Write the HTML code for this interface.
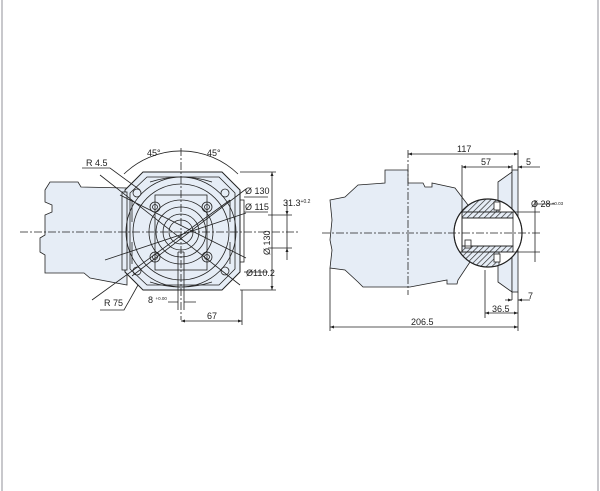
<!DOCTYPE html>
<html><head><meta charset="utf-8"><style>
html,body{margin:0;padding:0;background:#fff;}
svg{display:block;}
text{font-family:"Liberation Sans",sans-serif;font-size:9px;fill:#222;}
</style></head><body>
<svg width="600" height="491" viewBox="0 0 600 491" xmlns="http://www.w3.org/2000/svg">
<defs>
<pattern id="h" width="4" height="4" patternUnits="userSpaceOnUse" patternTransform="rotate(45)">
<rect width="4" height="4" fill="#e6edf6"/><line x1="0" y1="0" x2="0" y2="4" stroke="#222" stroke-width="1.3"/>
</pattern>
<clipPath id="cc"><circle cx="488" cy="233" r="34"/></clipPath>
</defs>
<rect x="1" y="0" width="2" height="491" fill="#c8c8cc"/>
<rect x="597" y="0" width="2" height="491" fill="#c8c8cc"/>

<g stroke="#222" stroke-width="0.8" fill="none">
<!-- LEFT pump body -->
<path d="M45,190 L50,182 L78,182 L81,187 L127,188 L127,285 L90,278 L84,273 L45,273 L45,255 L40,252 L40,238 L45,235 L45,215 L52,212 L52,205 L45,202 Z" fill="#e6edf6"/>
<!-- flange square -->
<path d="M143,172 L222,172 L240,190 L240,272 L222,290 L143,290 L125,272 L125,190 Z" fill="#e6edf6" stroke-width="1"/>
<path d="M147,177 L219,177 L235,193 L235,269 L219,285 L147,285 L130,269 L130,193 Z"/>
<rect x="122" y="192" width="5" height="78" fill="#e6edf6"/>
<rect x="240" y="200" width="4" height="62"/>
<circle cx="181" cy="232" r="55"/>
<circle cx="181" cy="232" r="48"/>
<circle cx="181" cy="232" r="32"/>
<circle cx="181" cy="232" r="25"/>
<circle cx="181" cy="232" r="18"/>
<circle cx="181" cy="232" r="12"/>
<g>
<circle cx="155" cy="207" r="5"/><circle cx="155" cy="207" r="2.5"/>
<circle cx="207" cy="207" r="5"/><circle cx="207" cy="207" r="2.5"/>
<circle cx="155" cy="257" r="5"/><circle cx="155" cy="257" r="2.5"/>
<circle cx="207" cy="257" r="5"/><circle cx="207" cy="257" r="2.5"/>
<circle cx="137" cy="193" r="4"/><circle cx="225" cy="193" r="4"/>
<circle cx="137" cy="271" r="4"/><circle cx="225" cy="271" r="4"/>
<path d="M132,200 L132,222 M230,200 L230,222 M132,242 L132,264 M230,242 L230,264"/>
<path d="M150,182 Q181,172 212,182 M150,282 Q181,292 212,282"/>
</g>
<rect x="155" y="195" width="52" height="75"/>
<!-- diagonal lines -->
<path d="M100,175 L240,285 M120,195 L246,258 M132,276 L246,189 M92,300 L230,200 M105,260 L246,213"/>
<!-- 45 arcs -->
<path d="M124,174 A82,82 0 0 1 238,174"/>
<path d="M181,148 L181,320" stroke-dasharray="8,2,2,2"/>
<path d="M20,232 L300,232" stroke-dasharray="8,2,2,2"/>
<path d="M178,252 L178,310 M184,252 L184,310 M178,252 L184,252"/>
<!-- dims left -->
<path d="M240,172 L276,172 M240,290 L276,290 M272,172 L272,290"/>
<path d="M244,272 L268,272"/>
<path d="M268,215 L292,215 M268,248 L292,248 M287,200 L287,260"/>
<path d="M181,321 L242,321 M242,290 L242,325"/>
<path d="M168,302 L178,302 M184,302 L196,302"/>
<path d="M100,310 L124,310 L138,285"/>
<path d="M82,168 L110,168 L140,190"/>
<path d="M244,197 L268,197 M244,212 L268,212"/>

<!-- RIGHT body -->
<path d="M330,200 L345,197 L358,185 L385,183 L385,170 L408,170 L408,183 L423,183 L425,187 L432,187 L432,183 L455,188 L468,205 L470,262 L458,280 L457,284 L447,284 L447,280 L410,287 L363,287 L358,282 L345,270 L330,268 L332,250 L330,240 L332,220 Z" fill="#e6edf6"/>
<path d="M498,182 L512,172 L512,292 L498,282 Z" fill="#e6edf6"/>
<rect x="512" y="170" width="6" height="122" fill="#e6edf6"/>
<circle cx="488" cy="233" r="34" fill="#fff"/>
<g clip-path="url(#cc)">
<rect x="454" y="199" width="45" height="13" fill="url(#h)"/>
<rect x="454" y="252" width="45" height="16" fill="url(#h)"/>
<rect x="462" y="212" width="51" height="6" fill="url(#h)"/>
<rect x="462" y="246" width="51" height="6" fill="url(#h)"/>
<rect x="462" y="218" width="51" height="28" fill="#fff"/>
<rect x="494" y="202" width="6" height="8" fill="#fff"/>
<rect x="494" y="254" width="6" height="8" fill="#fff"/>
<rect x="465" y="240" width="6" height="8" fill="#fff"/>
</g>
<circle cx="488" cy="233" r="34" stroke-width="1.2"/>
<path d="M462,212 L513,212 M462,252 L513,252 M462,218 L513,218 M462,246 L513,246 M462,212 L462,252"/>
<path d="M408,150 L408,295" stroke-dasharray="8,2,2,2"/>
<path d="M322,233 L540,233" stroke-dasharray="8,2,2,2"/>
<!-- right dims -->
<path d="M408,154 L518,154 M518,150 L518,170"/>
<path d="M462,167 L512,167 M462,165 L462,212 M512,165 L512,172 M518,167 L540,167"/>
<path d="M513,212 L540,212 M513,252 L540,252 M535,200 L535,262 M535,204 L555,204"/>
<path d="M512,292 L512,300 M518,292 L518,318 M505,300 L512,300 M518,300 L530,300"/>
<path d="M485,270 L485,318 M485,313 L518,313"/>
<path d="M330,268 L330,331 M330,327 L518,327 M518,318 L518,331"/>
</g>
<g fill="#222">
<path d="M408,154 l4,-1.5 v3 z M518,154 l-4,-1.5 v3 z M462,167 l4,-1.5 v3z M512,167 l-4,-1.5 v3z M518,167 l4,-1.5 v3z"/>
<path d="M330,327 l4,-1.5 v3z M518,327 l-4,-1.5 v3z M485,313 l4,-1.5 v3z M518,313 l-4,-1.5 v3z M518,300 l4,-1.5v3z M512,300 l-4,-1.5 v3z"/>
<path d="M181,321 l4,-1.5 v3z M242,321 l-4,-1.5 v3z M272,172 l-1.5,4 h3z M272,290 l-1.5,-4 h3z M287,215 l-1.5,-4 h3z M287,248 l-1.5,4 h3z"/>
</g>
<text x="147" y="156" font-size="8">45°</text>
<text x="207" y="156" font-size="8">45°</text>
<text x="86" y="166">R 4.5</text>
<text x="245" y="194">Ø 130</text>
<text x="245" y="210">Ø 115</text>
<text x="246" y="276">Ø110.2</text>
<text x="283" y="206">31.3<tspan font-size="5" dy="-3">+0.2</tspan></text>
<text transform="translate(270,255) rotate(-90)">Ø 130</text>
<text x="104" y="306">R 75</text>
<text x="148" y="303">8 <tspan font-size="4.5" dy="-3">+0.00</tspan></text>
<text x="207" y="319">67</text>
<text x="457" y="152">117</text>
<text x="481" y="165">57</text>
<text x="526" y="165">5</text>
<text x="531" y="207">Ø 28<tspan font-size="4.5" dy="-2"> +0.03</tspan></text>
<text x="528" y="299">7</text>
<text x="492" y="312">36.5</text>
<text x="411" y="325">206.5</text>
</svg>
</body></html>
